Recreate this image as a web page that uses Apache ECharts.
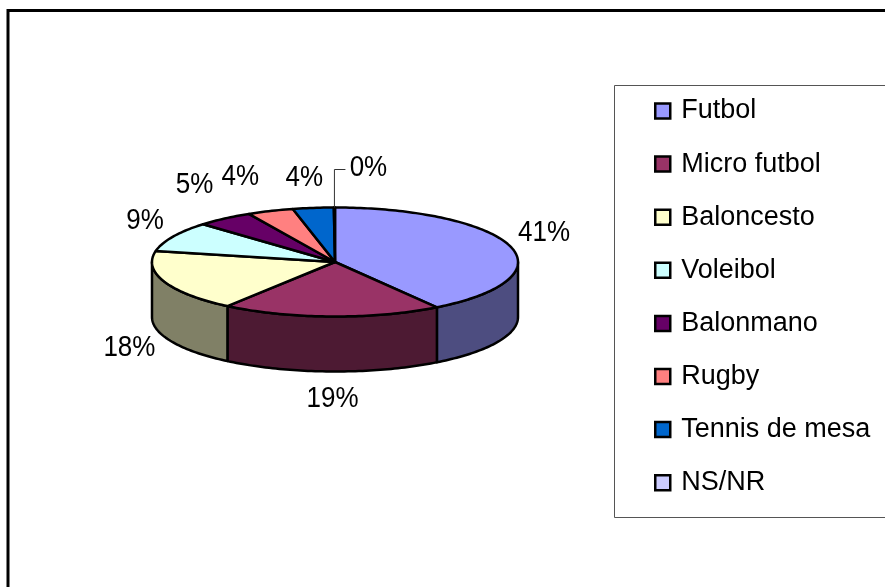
<!DOCTYPE html>
<html><head><meta charset="utf-8">
<style>html,body{margin:0;padding:0;background:#fff}#c{width:885px;height:587px}</style>
<script src="https://cdn.jsdelivr.net/npm/echarts@6/dist/echarts.min.js"></script>
</head><body><div id="c"></div>
<script>
const categories = ['Futbol','Micro futbol','Baloncesto','Voleibol','Balonmano','Rugby','Tennis de mesa','NS/NR'];
const values = [40.6,19.4,18.2,9.0,5.0,4.1,3.6,0.1];
const colors = ['#9999FF','#993366','#FFFFCC','#CCFFFF','#660066','#FF8080','#0066CC','#CCCCFF'];
const wallColors = ['#4D4D80','#4D1A33','#808066','#668080','#330033','#804040','#003366','#666680'];
// label nudges away from the rim, in px (layout only)
const labelNudge = [[34,-13],[1,82],[-35,66],[-28,-16],[-30,-34],[-30,-34],[-9,-30],[34,-40]];

const CX=335, CY=262, RX=183, RY=54.5, DEPTH=55, STROKE=2.5;
const total = values.reduce((a,b)=>a+b,0);
const starts = []; let acc = 0;
values.forEach(v=>{starts.push(acc/total*Math.PI*2); acc+=v;});
const pt = (t,dy=0)=>[CX+RX*Math.sin(t), CY-RY*Math.cos(t)+dy];
function arc(a,b,dy=0){const n=Math.max(2,Math.ceil((b-a)/0.02));const o=[];for(let i=0;i<=n;i++)o.push(pt(a+(b-a)*i/n,dy));return o;}

function makeRender(i){
  return function(){
    const a=starts[i], b=a+values[i]/total*Math.PI*2, mid=(a+b)/2;
    const children=[];
    const w0=Math.max(a,Math.PI/2), w1=Math.min(b,Math.PI*1.5);
    if(w1>w0){
      children.push({type:'polygon',z2:1,shape:{points:arc(w0,w1).concat(arc(w0,w1,DEPTH).reverse())},
        style:{fill:wallColors[i],stroke:'#000',lineWidth:STROKE,lineJoin:'round'}});
    }
    children.push({type:'polygon',z2:5,shape:{points:[[CX,CY]].concat(arc(a,b))},
      style:{fill:colors[i],stroke:'#000',lineWidth:STROKE,lineJoin:'round'}});
    const p=pt(mid), lx=p[0]+labelNudge[i][0], ly=p[1]+labelNudge[i][1];
    if(Math.round(values[i])===0){
      children.push({type:'polyline',z2:6,shape:{points:[[p[0],p[1]],[p[0],ly+2],[lx-23,ly+2]]},
        style:{fill:'none',stroke:'#333',lineWidth:1}});
    }
    children.push({type:'text',z2:10,x:lx,y:ly,scaleY:1.12,style:{text:Math.round(values[i]/total*100)+'%',
      fill:'#000',font:'26px "Liberation Sans"',align:'center',verticalAlign:'middle'}});
    return {type:'group',children};
  };
}

const chart = echarts.init(document.getElementById('c'),null,{renderer:'canvas'});
chart.setOption({
  animation:false,
  backgroundColor:'#fff',
  graphic:[
    {type:'rect',z:-10,silent:true,shape:{x:8,y:10.5,width:1000,height:1000},style:{fill:'#fff',stroke:'#000',lineWidth:3}},
    {type:'rect',z:-9,silent:true,shape:{x:614.5,y:85.5,width:400,height:432},style:{fill:'#fff',stroke:'#555',lineWidth:1}}
  ],
  legend:{
    orient:'vertical',left:654,top:94,padding:0,itemGap:19.1,
    itemWidth:15,itemHeight:15,icon:'rect',selectedMode:false,
    itemStyle:{borderColor:'#000',borderWidth:2.5},
    textStyle:{color:'#000',fontFamily:'"Liberation Sans"',fontSize:27,lineHeight:30,padding:[0,0,4,6]},
    data:categories
  },
  series:categories.map((name,i)=>({
    type:'custom',name,coordinateSystem:'none',silent:true,
    itemStyle:{color:colors[i]},
    data:[[values[i]]],
    renderItem:makeRender(i)
  }))
});
</script></body></html>
